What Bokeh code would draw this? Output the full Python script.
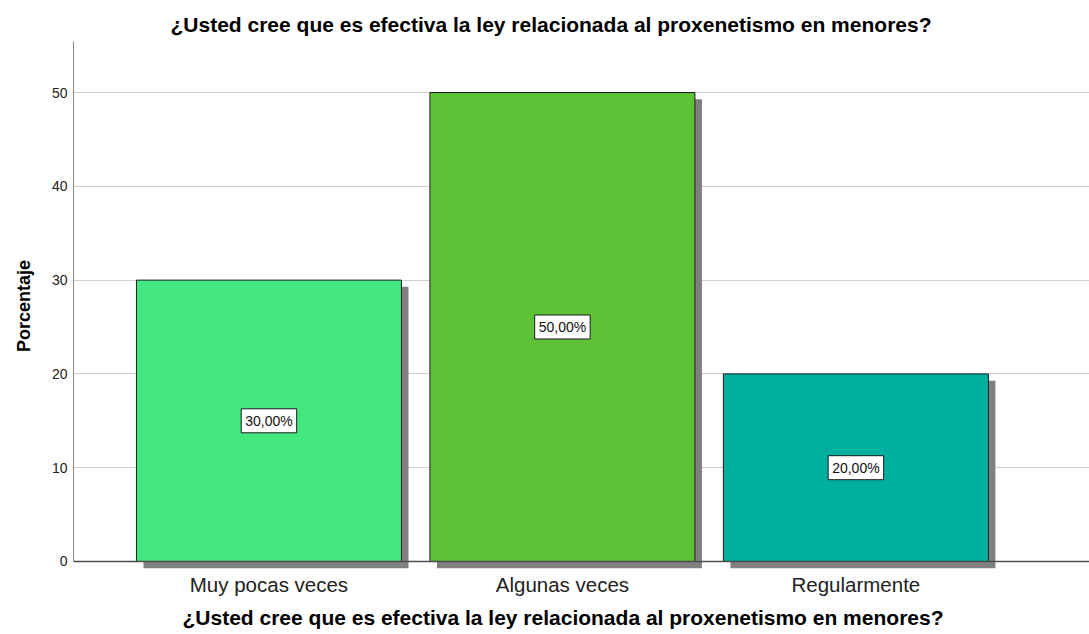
from bokeh.plotting import figure
from bokeh.models import Range1d, FixedTicker, Span, Label, Title, ColumnDataSource
from bokeh.transform import dodge
from bokeh.embed import file_html
from bokeh.resources import INLINE

categories = ["Muy pocas veces", "Algunas veces", "Regularmente"]
percentages = [30.0, 50.0, 20.0]
label_texts = ["30,00%", "50,00%", "20,00%"]
bar_colors = ["#42E77F", "#5DC236", "#00B09E"]
y_ticks = [0, 10, 20, 30, 40, 50]
grid_ticks = [10, 20, 30, 40, 50]
title_text = "¿Usted cree que es efectiva la ley relacionada al proxenetismo en menores?"
y_title = "Porcentaje"

FONT = "Liberation Sans"
x = list(range(len(categories)))
shadow_dy = 0.72
src = ColumnDataSource(dict(
    x=x, top=percentages, color=bar_colors,
    shadow_top=[v - shadow_dy for v in percentages],
))

p = figure(width=1089, height=634, output_backend="svg", toolbar_location=None,
           x_range=Range1d(-0.666, 2.796), y_range=Range1d(-0.96, 55.44),
           min_border_left=73, min_border_right=0, min_border_top=41, min_border_bottom=64)
p.outline_line_color = None
p.background_fill_color = "white"
p.border_fill_color = "white"

# shadows
p.vbar(x=dodge("x", 0.024, range=p.x_range), top="shadow_top", bottom=-shadow_dy,
       width=0.903, fill_color="#808080", line_color=None, source=src)
# bars
p.vbar(x="x", top="top", bottom=0, width=0.903, fill_color="color",
       line_color="#1e1e1e", line_width=1, source=src)

p.add_layout(Span(location=0, dimension="width", line_color="#4d4d4d", line_width=1.5))

for xi, v, t in zip(x, percentages, label_texts):
    p.add_layout(Label(x=xi, y=v / 2, text=t, text_align="center", text_baseline="middle",
                       text_font=FONT, text_font_size="14px", text_color="#111111",
                       background_fill_color="white", border_line_color="#1a1a1a",
                       border_line_width=1, padding=4))

# grid
p.xgrid.visible = False
p.ygrid.ticker = FixedTicker(ticks=grid_ticks)
p.ygrid.grid_line_color = "#cfcfcf"
p.ygrid.grid_line_width = 1

# y axis
p.yaxis.ticker = FixedTicker(ticks=y_ticks)
p.yaxis.bounds = (0, 55.44)
p.yaxis.axis_line_color = "#8a8a8a"
p.yaxis.axis_line_width = 1
p.yaxis.major_tick_line_color = None
p.yaxis.minor_tick_line_color = None
p.yaxis.major_tick_out = 0
p.yaxis.major_tick_in = 0
p.yaxis.major_label_standoff = 6
p.yaxis.major_label_text_font = FONT
p.yaxis.major_label_text_font_size = "14px"
p.yaxis.major_label_text_color = "#222222"
p.yaxis.axis_label = y_title
p.yaxis.axis_label_text_font = FONT
p.yaxis.axis_label_text_font_size = "18px"
p.yaxis.axis_label_text_font_style = "bold"
p.yaxis.axis_label_text_color = "#000000"
p.yaxis.axis_label_standoff = 15

# x axis
p.xaxis.ticker = FixedTicker(ticks=x)
p.xaxis.major_label_overrides = {i: c for i, c in zip(x, categories)}
p.xaxis.axis_line_color = None
p.xaxis.major_tick_line_color = None
p.xaxis.minor_tick_line_color = None
p.xaxis.major_tick_out = 0
p.xaxis.major_tick_in = 0
p.xaxis.major_label_standoff = 2
p.xaxis.major_label_text_font = FONT
p.xaxis.major_label_text_font_size = "20.5px"
p.xaxis.major_label_text_color = "#222222"

# titles
p.title.text = title_text
p.title.align = "left"
p.title.offset = 97
p.title.text_font = FONT
p.title.text_font_size = "21px"
p.title.text_font_style = "bold"
p.title.text_color = "#000000"
p.title.standoff = 11

p.add_layout(Title(text=title_text, align="left", offset=109, text_font=FONT,
                   text_font_size="21px", text_font_style="bold", text_color="#000000",
                   standoff=11), "below")

open("out.html", "w").write(file_html(p, INLINE))
